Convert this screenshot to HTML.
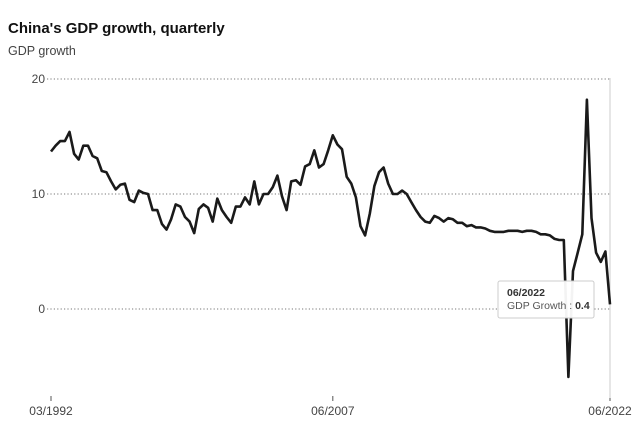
<!DOCTYPE html>
<html><head><meta charset="utf-8"><style>
body{margin:0;background:#fff;font-family:"Liberation Sans",sans-serif;}
svg{display:block}
</style></head><body>
<svg width="640" height="427" id="chart" xmlns="http://www.w3.org/2000/svg">
<text x="8" y="33" font-size="15" font-weight="bold" fill="#111">China's GDP growth, quarterly</text>
<text x="8" y="55" font-size="12.5" fill="#444">GDP growth</text>
<g id="grid"></g>
<g id="xaxis"></g>
<line x1="610" y1="78" x2="610" y2="398" stroke="#ccc" stroke-width="1"/>
<path id="line" fill="none" stroke="#1a1a1a" stroke-width="2.6" stroke-linejoin="round"/>
<g>
<rect x="498" y="281" width="96" height="37" rx="2" fill="#fff" fill-opacity="0.95" stroke="#ccc"/>
<text x="507" y="296" font-size="10.5" font-weight="bold" fill="#333">06/2022</text>
<text x="507" y="309" font-size="10.5" fill="#555">GDP Growth : <tspan font-weight="bold" fill="#333">0.4</tspan></text>
</g>
</svg>
<script>
const values=[13.7,14.2,14.6,14.6,15.4,13.5,13.0,14.2,14.2,13.3,13.1,12.0,11.9,11.1,10.4,10.8,10.9,9.5,9.3,10.3,10.1,10.0,8.6,8.6,7.4,6.9,7.8,9.1,8.9,8.0,7.6,6.6,8.7,9.1,8.8,7.6,9.6,8.6,8.0,7.5,8.9,8.9,9.7,9.1,11.1,9.1,10.0,10.0,10.6,11.6,9.8,8.6,11.1,11.2,10.8,12.4,12.6,13.8,12.3,12.6,13.8,15.1,14.3,13.9,11.5,10.9,9.7,7.2,6.4,8.3,10.7,11.9,12.3,10.9,10.0,10.0,10.3,10.0,9.3,8.6,8.0,7.6,7.5,8.1,7.9,7.6,7.9,7.8,7.5,7.5,7.2,7.3,7.1,7.1,7.0,6.8,6.7,6.7,6.7,6.8,6.8,6.8,6.7,6.8,6.8,6.7,6.5,6.5,6.4,6.1,6.0,6.0,-5.9,3.3,4.9,6.5,18.2,7.9,4.9,4.1,5.0,0.4];
const yTicks=[0,10,20];
const xTickLabels=["03/1992","06/2007","06/2022"];
const xTickIndex=[0,61,121];
const ns="http://www.w3.org/2000/svg";
const X0=51,X1=610,Y0=309,PX=11.5;
function xs(i){return X0+(X1-X0)*i/(values.length-1);}
function ys(v){return Y0-v*PX;}
const grid=document.getElementById('grid');
yTicks.forEach(t=>{
 const l=document.createElementNS(ns,'line');
 l.setAttribute('x1',47);l.setAttribute('x2',610);l.setAttribute('y1',ys(t));l.setAttribute('y2',ys(t));
 l.setAttribute('stroke','#777');l.setAttribute('stroke-dasharray','1.2 2.2');
 
 
 grid.appendChild(l);
 const tx=document.createElementNS(ns,'text');
 tx.setAttribute('x',45);tx.setAttribute('y',ys(t)+4);tx.setAttribute('text-anchor','end');
 tx.setAttribute('font-size','12');tx.setAttribute('fill','#444');tx.textContent=t;
 
 
 grid.appendChild(tx);
});
const xa=document.getElementById('xaxis');
xTickLabels.forEach((lab,k)=>{
 const x=xs(xTickIndex[k]);
 const l=document.createElementNS(ns,'line');
 l.setAttribute('x1',x);l.setAttribute('x2',x);l.setAttribute('y1',396);l.setAttribute('y2',401);l.setAttribute('stroke','#555');
 
 
 xa.appendChild(l);
 const tx=document.createElementNS(ns,'text');
 tx.setAttribute('x',x);tx.setAttribute('y',415);tx.setAttribute('text-anchor','middle');
 tx.setAttribute('font-size','12');tx.setAttribute('fill','#444');tx.textContent=lab;
 
 
 xa.appendChild(tx);
});
document.getElementById('line').setAttribute('d',values.map((v,i)=>(i?'L':'M')+xs(i).toFixed(1)+','+ys(v).toFixed(1)).join(''));
</script>
</body></html>
